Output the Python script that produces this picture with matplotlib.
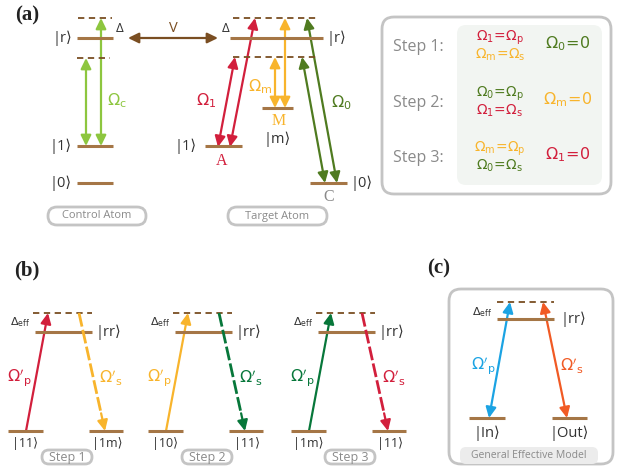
import matplotlib
matplotlib.use('agg')
from matplotlib import pyplot as plt
from matplotlib.patches import FancyArrowPatch, FancyBboxPatch

plt.rcParams['font.family'] = ['Open Sans', 'DejaVu Sans']
plt.rcParams['mathtext.fontset'] = 'dejavusans'

BROWN = '#a57646'
DKBROWN = '#7a4e22'
RED = '#d21f3c'
YELLOW = '#f8b42c'
LIME = '#8dc63f'
OLIVE = '#4f7b20'
GREEN = '#07773a'
BLUE = '#1ba3e3'
ORANGE = '#f15a24'
GRAY = '#8a8a8a'
BOXEDGE = '#c4c4c4'

# energy levels: (x0, x1, y)
ctrl_levels = [(77, 113, 38), (77, 113, 146), (77, 113, 183)]
ctrl_dashed = [(78, 112, 18), (77, 110, 58)]
ctrl_labels = ['|r⟩', '|1⟩', '|0⟩']

tgt_levels = [(230, 323, 38), (205, 242, 146), (262, 293, 108), (310, 347, 183)]
tgt_dashed = [(233, 318, 18), (233, 318, 57)]

# step table rows: (step, probe, stokes, off)
steps = ['Step 1:', 'Step 2:', 'Step 3:']
probe = [(r'$\Omega_1\!=\!\Omega_\mathrm{p}$', RED), (r'$\Omega_0\!=\!\Omega_\mathrm{p}$', OLIVE),
         (r'$\Omega_\mathrm{m}\!=\!\Omega_\mathrm{p}$', YELLOW)]
stokes = [(r'$\Omega_\mathrm{m}\!=\!\Omega_\mathrm{s}$', YELLOW), (r'$\Omega_1\!=\!\Omega_\mathrm{s}$', RED),
          (r'$\Omega_0\!=\!\Omega_\mathrm{s}$', OLIVE)]
off = [(r'$\Omega_0\!=\!0$', OLIVE), (r'$\Omega_\mathrm{m}\!=\!0$', YELLOW), (r'$\Omega_1\!=\!0$', RED)]

# panel (b) effective three-level schemes
b_ground_labels = [('|11⟩', '|1m⟩'), ('|10⟩', '|11⟩'), ('|1m⟩', '|11⟩')]
b_colors = [(RED, YELLOW), (YELLOW, GREEN), (GREEN, RED)]
b_offsets = [0, 140, 283]

fig = plt.figure(figsize=(6.3, 4.69), dpi=100)
ax = fig.add_axes([0, 0, 1, 1])
ax.set_xlim(0, 630)
ax.set_ylim(469, 0)
ax.axis('off')


def level(x0, x1, y, dashed=False):
    if dashed:
        ax.plot([x0, x1], [y, y], color=DKBROWN, lw=1.3, ls=(0, (3.5, 2.5)))
    else:
        ax.plot([x0, x1], [y, y], color=BROWN, lw=2.2, solid_capstyle='butt')


def arrow(p0, p1, color, both=True, dashed=False):
    if dashed:
        # dashed shaft, solid head
        fx = p0[0] + (p1[0] - p0[0]) * 0.85
        fy = p0[1] + (p1[1] - p0[1]) * 0.85
        ax.plot([p0[0], fx], [p0[1], fy], color=color, lw=2.0, ls=(0, (5, 1.2)))
        p0 = (fx, fy)
        both = False
    style = '<|-|>' if both else '-|>'
    ax.add_patch(FancyArrowPatch(p0, p1, arrowstyle=style + ',head_length=0.45,head_width=0.22',
                                 mutation_scale=14, color=color, lw=1.6, shrinkA=0, shrinkB=0))


def pill(x0, y0, x1, y1, text, fc='white', size=8):
    ax.add_patch(FancyBboxPatch((x0, y0), x1 - x0, y1 - y0,
                                boxstyle='round,pad=0,rounding_size=%g' % ((y1 - y0) / 2),
                                fc=fc, ec=BOXEDGE, lw=2.0))
    ax.text((x0 + x1) / 2, (y0 + y1) / 2, text, color=GRAY, size=size, ha='center', va='center')


def panel_label(x, y, s):
    ax.text(x, y, s, family='Liberation Serif', weight='bold', size=15, ha='left', va='center',
            color='#222222')


# ---------------- (a) ----------------
panel_label(15, 15, '(a)')
for (x0, x1, y), s in zip(ctrl_levels, ctrl_labels):
    level(x0, x1, y)
    ax.text(72, y, s, size=10.5, ha='right', va='center', color='#333333')
for x0, x1, y in ctrl_dashed:
    level(x0, x1, y, dashed=True)
arrow((86, 58), (86, 146), LIME)
arrow((101, 18), (101, 146), LIME)
ax.text(107, 101, r'$\Omega_\mathrm{c}$', color=LIME, size=11.5, ha='left', va='center')
ax.text(120, 28, 'Δ', size=9.5, ha='center', va='center', color='#333333')

arrow((128, 38), (218, 38), DKBROWN)
ax.text(173, 29, 'V', size=10.5, ha='center', va='center', color=DKBROWN)

for x0, x1, y in tgt_levels:
    level(x0, x1, y)
for x0, x1, y in tgt_dashed:
    level(x0, x1, y, dashed=True)
ax.text(226, 28, 'Δ', size=9.5, ha='center', va='center', color='#333333')
ax.text(327, 38, '|r⟩', size=10.5, ha='left', va='center', color='#333333')
ax.text(197, 146, '|1⟩', size=10.5, ha='right', va='center', color='#333333')
ax.text(277, 139, '|m⟩', size=10.5, ha='center', va='center', color='#333333')
ax.text(351, 183, '|0⟩', size=10.5, ha='left', va='center', color='#333333')
ax.text(222, 161, 'A', family='Liberation Serif', size=11.5, ha='center', va='center', color=RED)
ax.text(279, 121, 'M', family='Liberation Serif', size=11.5, ha='center', va='center', color=YELLOW)
ax.text(329, 197, 'C', family='Liberation Serif', size=11.5, ha='center', va='center', color=GRAY)

arrow((218, 147), (235, 57), RED)
arrow((230, 147), (255, 18), RED)
arrow((275, 108), (275, 57), YELLOW)
arrow((285, 108), (285, 18), YELLOW)
arrow((325, 183), (302, 57), OLIVE)
arrow((337, 183), (307, 18), OLIVE)
ax.text(206, 101, r'$\Omega_1$', color=RED, size=11.5, ha='center', va='center')
ax.text(260, 87, r'$\Omega_\mathrm{m}$', color=YELLOW, size=11.5, ha='center', va='center')
ax.text(341, 103, r'$\Omega_0$', color=OLIVE, size=11.5, ha='center', va='center')

pill(48, 207, 146, 225, 'Control Atom')
pill(228, 207, 327, 225, 'Target Atom')

# step table
ax.add_patch(FancyBboxPatch((382, 17), 229, 177, boxstyle='round,pad=0,rounding_size=12',
                            fc='white', ec=BOXEDGE, lw=2.0))
ax.add_patch(FancyBboxPatch((457, 25), 145, 160, boxstyle='round,pad=0,rounding_size=9',
                            fc='#f2f5f2', ec='none'))
row_y = [46, 102, 157]
for y, st, (ps, pc), (ss, sc), (os_, oc) in zip(row_y, steps, probe, stokes, off):
    ax.text(393, y + 1, st, size=11.5, color=GRAY, ha='left', va='center')
    ax.text(500, y - 8, ps, size=10, color=pc, ha='center', va='center')
    ax.text(500, y + 8.5, ss, size=10, color=sc, ha='center', va='center')
    ax.text(568, y - 2, os_, size=11.5, color=oc, ha='center', va='center')

# ---------------- (b) ----------------
panel_label(14, 270, '(b)')
for k, dx in enumerate(b_offsets):
    cp, cs = b_colors[k]
    gl, gr = b_ground_labels[k]
    level(33 + dx, 92 + dx, 313, dashed=True)
    level(35 + dx, 92 + dx, 332)
    level(8 + dx, 43 + dx, 431)
    level(89 + dx, 123 + dx, 431)
    ax.text(20 + dx, 322, r'$\Delta_\mathrm{eff}$', size=8, ha='center', va='center', color='#333333')
    ax.text(108 + dx, 332, '|rr⟩', size=10.5, ha='center', va='center', color='#333333')
    ax.text(25 + dx, 444, gl, size=9, ha='center', va='center', color='#333333')
    ax.text(107 + dx, 444, gr, size=9, ha='center', va='center', color='#333333')
    arrow((26 + dx, 431), (48 + dx, 313), cp, both=False)
    arrow((79 + dx, 313), (105 + dx, 431), cs, dashed=True)
    ax.text(19 + dx, 377, r"$\Omega'_\mathrm{p}$", size=11.5, color=cp, ha='center', va='center')
    ax.text(111 + dx, 377, r"$\Omega'_\mathrm{s}$", size=11.5, color=cs, ha='center', va='center')
    pill(42 + dx, 450, 92 + dx, 464, 'Step %d' % (k + 1), size=9)

# ---------------- (c) ----------------
panel_label(427, 268, '(c)')
ax.add_patch(FancyBboxPatch((449, 289), 164, 175, boxstyle='round,pad=0,rounding_size=12',
                            fc='white', ec=BOXEDGE, lw=2.0))
ax.add_patch(FancyBboxPatch((460, 447), 138, 17, boxstyle='round,pad=0,rounding_size=6',
                            fc='#ececec', ec='none'))
ax.text(529, 455, 'General Effective Model', size=7.5, color=GRAY, ha='center', va='center')
level(497, 554, 302, dashed=True)
level(497, 554, 319)
level(469, 505, 418)
level(552, 587, 418)
ax.text(482, 312, r'$\Delta_\mathrm{eff}$', size=8, ha='center', va='center', color='#333333')
ax.text(573, 319, '|rr⟩', size=10.5, ha='center', va='center', color='#333333')
ax.text(487, 433, '|In⟩', size=10.5, ha='center', va='center', color='#333333')
ax.text(569, 433, '|Out⟩', size=10.5, ha='center', va='center', color='#333333')
arrow((489, 418), (510, 302), BLUE)
arrow((567, 418), (543, 302), ORANGE)
ax.text(483, 365, r"$\Omega'_\mathrm{p}$", size=11.5, color=BLUE, ha='center', va='center')
ax.text(572, 365, r"$\Omega'_\mathrm{s}$", size=11.5, color=ORANGE, ha='center', va='center')

fig.savefig('out.png', dpi=100)
